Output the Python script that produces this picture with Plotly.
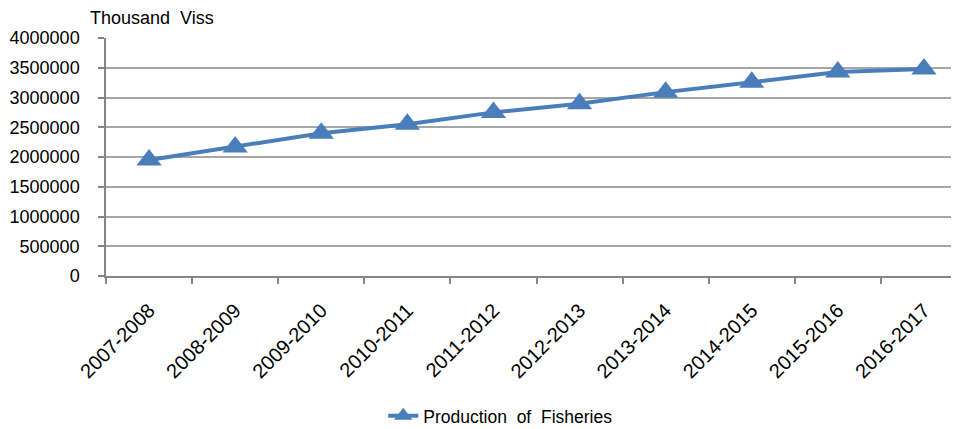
import plotly.graph_objects as go

categories = ["2007-2008", "2008-2009", "2009-2010", "2010-2011", "2011-2012",
              "2012-2013", "2013-2014", "2014-2015", "2015-2016", "2016-2017"]
production = [1950000, 2170000, 2400000, 2550000, 2750000,
              2895000, 3090000, 3255000, 3430000, 3480000]
y_ticks = [0, 500000, 1000000, 1500000, 2000000, 2500000,
           3000000, 3500000, 4000000]

FONT = "Liberation Sans, Arial, sans-serif"
BLUE = "#4A7EBB"
AXIS = "#868686"
GRID = "#A6A6A6"

fig = go.Figure()
fig.add_trace(go.Scatter(
    x=categories, y=production, mode="lines+markers",
    name="Production\u00a0 of\u00a0 Fisheries",
    line=dict(color=BLUE, width=4),
    marker=dict(symbol="triangle-up", size=22, color=BLUE),
))

fig.update_layout(
    width=959, height=429,
    margin=dict(l=98, r=0, t=30, b=161, autoexpand=False),
    paper_bgcolor="white", plot_bgcolor="white",
    font=dict(family=FONT, color="#000000"),
    showlegend=True,
    legend=dict(orientation="h", x=0.322, xanchor="left", y=-0.588,
                yanchor="middle", font=dict(size=17.5, family=FONT),
                bgcolor="rgba(0,0,0,0)"),
    xaxis=dict(
        type="category", range=[-0.5, 9.5], automargin=False,
        showline=True, linecolor=AXIS, linewidth=1.5,
        ticks="outside", ticklen=6, tickcolor=AXIS, tickwidth=1.5,
        tickson="boundaries", showgrid=False,
        tickangle=-45, tickfont=dict(size=20, family=FONT),
        ticklabelstandoff=13,
    ),
    yaxis=dict(
        range=[0, 4000000], tickvals=y_ticks, automargin=False,
        ticktext=[str(v) for v in y_ticks],
        showline=True, linecolor=AXIS, linewidth=1.5,
        ticks="outside", ticklen=6, tickcolor=AXIS, tickwidth=1.5,
        showgrid=True, gridcolor=GRID, gridwidth=1.5,
        zeroline=False,
        tickfont=dict(size=18, family=FONT),
        ticklabelstandoff=15,
    ),
    annotations=[dict(
        text="Thousand\u00a0 Viss", xref="paper", yref="paper",
        x=-0.0209, y=1.084, xanchor="left", yanchor="middle",
        showarrow=False, font=dict(size=18, family=FONT, color="#000000"),
    )],
)

fig.write_html("out.html")
